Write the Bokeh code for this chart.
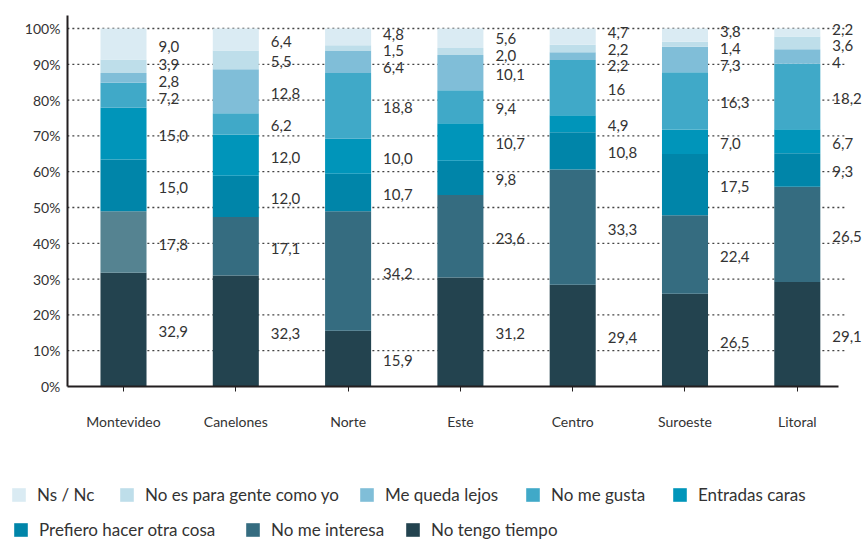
import numpy as np
from bokeh.plotting import figure
from bokeh.models import (Range1d, FixedTicker, Legend, LegendItem, ColumnDataSource,
                          LabelSet, PrintfTickFormatter)
from bokeh.core.properties import value
from bokeh.embed import file_html
from bokeh.resources import INLINE

# ---------------- data ----------------
regions = ["Montevideo", "Canelones", "Norte", "Este", "Centro", "Suroeste", "Litoral"]

no_tengo_tiempo = [32.9, 32.3, 15.9, 31.2, 29.4, 26.5, 29.1]
no_me_interesa = [17.8, 17.1, 34.2, 23.6, 33.3, 22.4, 26.5]
prefiero_otra_cosa = [15.0, 12.0, 10.7, 9.8, 10.8, 17.5, 9.3]
entradas_caras = [15.0, 12.0, 10.0, 10.7, 4.9, 7.0, 6.7]
no_me_gusta = [7.2, 6.2, 18.8, 9.4, 16, 16.3, 18.2]
me_queda_lejos = [2.8, 12.8, 6.4, 10.1, 2.2, 7.3, 4]
no_es_para_gente = [3.9, 5.5, 1.5, 2.0, 2.2, 1.4, 3.6]
ns_nc = [9.0, 6.4, 4.8, 5.6, 4.7, 3.8, 2.2]

series_names = ["No tengo tiempo", "No me interesa", "Prefiero hacer otra cosa",
                "Entradas caras", "No me gusta", "Me queda lejos",
                "No es para gente como yo", "Ns / Nc"]
series_values = [no_tengo_tiempo, no_me_interesa, prefiero_otra_cosa, entradas_caras,
                 no_me_gusta, me_queda_lejos, no_es_para_gente, ns_nc]

y_ticks = [0, 10, 20, 30, 40, 50, 60, 70, 80, 90, 100]

# ---------------- styles ----------------
series_colors = ["#23434F", "#356C80", "#0085A9", "#0095BA",
                 "#40A9C8", "#80BED8", "#BEDEEA", "#DAEBF3"]
montevideo_interesa_color = "#558391"
FONT = "Lato"
TXT = "#333333"
AXIS = "#231F20"

# ---------------- computation ----------------
data = np.array(series_values, dtype=float)          # (series, regions)
totals = data.sum(axis=0)
norm = data / totals * 100.0
tops = np.cumsum(norm, axis=0)
bottoms = tops - norm
xs = list(range(len(regions)))


def fmt(v):
    if isinstance(v, int):
        return str(v)
    return f"{v:.1f}".replace(".", ",")


def spread(centers, gap):
    clusters = [[i] for i in range(len(centers))]

    def positions(cl):
        m = np.mean([centers[i] for i in cl])
        n = len(cl)
        return [m + (k - (n - 1) / 2.0) * gap for k in range(n)]

    changed = True
    while changed:
        changed = False
        for a in range(len(clusters) - 1):
            pa = positions(clusters[a])
            pb = positions(clusters[a + 1])
            if pa[-1] + gap > pb[0] + 1e-9:
                clusters[a] = clusters[a] + clusters[a + 1]
                del clusters[a + 1]
                changed = True
                break
    out = [0.0] * len(centers)
    for cl in clusters:
        for i, p in zip(cl, positions(cl)):
            out[i] = p
    return out


label_x, label_y, label_t = [], [], []
for j in range(len(regions)):
    centers = [(bottoms[i, j] + tops[i, j]) / 2.0 for i in range(len(series_names))]
    ys = spread(centers, 4.7)
    for i in range(len(series_names)):
        label_x.append(xs[j])
        label_y.append(ys[i])
        label_t.append(fmt(series_values[i][j]))

# ---------------- figure ----------------
# the frame fills the whole canvas; axes are drawn at fixed locations inside it
p = figure(width=862, height=541, output_backend="svg", toolbar_location=None,
           x_range=Range1d(-1.0953, 6.5806), y_range=Range1d(-43.30, 107.82),
           min_border_left=0, min_border_right=0, min_border_top=0, min_border_bottom=0)
p.outline_line_color = None
p.background_fill_color = "white"
p.xgrid.visible = False
p.ygrid.visible = False

# dotted gridlines
grid_src = ColumnDataSource(dict(y=y_ticks[1:], x0=[-0.5] * (len(y_ticks) - 1),
                                 x1=[6.43] * (len(y_ticks) - 1)))
p.segment(x0="x0", y0="y", x1="x1", y1="y", source=grid_src,
          line_color="#444444", line_width=1.3, line_dash="2 3")

renderers = []
for i, name in enumerate(series_names):
    cols = [series_colors[i]] * len(regions)
    if name == "No me interesa":
        cols[0] = montevideo_interesa_color
    src = ColumnDataSource(dict(x=xs, bottom=bottoms[i], top=tops[i], color=cols))
    r = p.vbar(x="x", width=0.41, bottom="bottom", top="top", source=src,
               fill_color="color", line_color=None)
    renderers.append(r)

lab_src = ColumnDataSource(dict(x=label_x, y=label_y, t=label_t))
labels = LabelSet(x="x", y="y", text="t", source=lab_src, x_offset=35, y_offset=-2,
                  text_font=value(FONT), text_font_size=value("15px"), text_color=value(TXT),
                  text_align="left", text_baseline="middle")
p.add_layout(labels)

# axes
p.xaxis.fixed_location = 0
p.xaxis.ticker = FixedTicker(ticks=xs)
p.xaxis.major_label_overrides = {x: r for x, r in zip(xs, regions)}
p.xaxis.bounds = (-0.5, 6.37)
p.xaxis.axis_line_width = 2
p.xaxis.axis_line_color = AXIS
p.xaxis.major_tick_out = 5
p.xaxis.major_tick_in = 0
p.xaxis.major_tick_line_color = AXIS
p.xaxis.minor_tick_line_color = None
p.xaxis.major_label_standoff = 22
p.xaxis.major_label_text_font = FONT
p.xaxis.major_label_text_font_size = "14px"
p.xaxis.major_label_text_color = TXT

p.yaxis.fixed_location = -0.5
p.yaxis.ticker = FixedTicker(ticks=y_ticks)
p.yaxis.formatter = PrintfTickFormatter(format="%d%%")
p.yaxis.bounds = (0, 103.6)
p.yaxis.axis_line_width = 2
p.yaxis.axis_line_color = AXIS
p.yaxis.major_tick_line_color = None
p.yaxis.minor_tick_line_color = None
p.yaxis.major_tick_out = 0
p.yaxis.major_tick_in = 0
p.yaxis.major_label_standoff = 7
p.yaxis.major_label_text_font = FONT
p.yaxis.major_label_text_font_size = "14px"
p.yaxis.major_label_text_color = TXT

# legends (one per item, laid out in two rows at the bottom of the canvas)
legend_layout = [
    ("Ns / Nc", 10, 36.5),
    ("No es para gente como yo", 118, 36.5),
    ("Me queda lejos", 358, 36.5),
    ("No me gusta", 524, 36.5),
    ("Entradas caras", 671, 36.5),
    ("Prefiero hacer otra cosa", 12, 1),
    ("No me interesa", 244, 1),
    ("No tengo tiempo", 404, 1),
]
for name, lx, ly in legend_layout:
    r = renderers[series_names.index(name)]
    leg = Legend(items=[LegendItem(label=name, renderers=[r], index=1)],
                 location=(lx, ly), orientation="horizontal",
                 padding=0, margin=0, spacing=0,
                 border_line_color=None, background_fill_alpha=0,
                 glyph_width=17, glyph_height=17, label_height=17,
                 label_standoff=10, label_text_font=FONT,
                 label_text_font_size="17px", label_text_color=TXT)
    p.add_layout(leg)

open("out.html", "w").write(file_html(p, INLINE))
